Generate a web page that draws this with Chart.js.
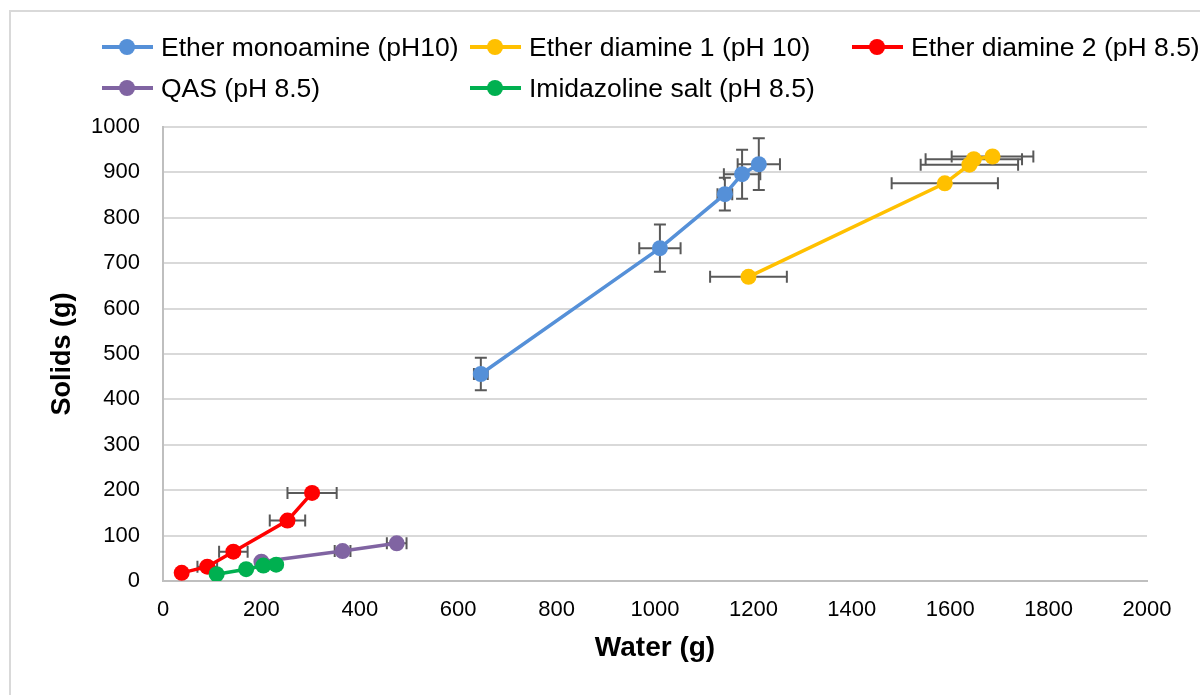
<!DOCTYPE html>
<html>
<head>
<meta charset="utf-8">
<script src="https://cdn.jsdelivr.net/npm/chart.js@4.4.1/dist/chart.umd.min.js"></script>
<style>
  html, body { margin: 0; padding: 0; background: #fff; overflow: hidden; }
  #wrap { position: relative; width: 1200px; height: 695px; overflow: hidden; }
  #frame { position: absolute; left: 9px; top: 10px; width: 1400px; height: 900px;
           border: 2px solid #d9d9d9; box-sizing: border-box; }
  #chart { position: absolute; left: 0; top: 0; }
  #legend { position: absolute; left: 102px; top: 32px; display: grid;
            grid-template-columns: 368px 382px auto; column-gap: 0; row-gap: 11px;
            font-family: "Liberation Sans", Arial, sans-serif; font-size: 26.5px; color: #000; }
  .item { display: flex; align-items: center; height: 30px; white-space: nowrap; }
  .sample { position: relative; width: 51px; height: 30px; margin-right: 8px; flex: none; }
  .sample .ln { position: absolute; left: 0; right: 0; top: 13px; height: 4px; }
  .sample .dot { position: absolute; left: 17px; top: 7px; width: 16px; height: 16px; border-radius: 50%; }
</style>
</head>
<body>
<div id="wrap">
  <div id="frame"></div>
  <canvas id="chart" width="1200" height="695"></canvas>
  <div id="legend"></div>
</div>
<script>
// Series names and colours
const seriesNames = [
  'Ether monoamine (pH10)',
  'Ether diamine 1 (pH 10)',
  'Ether diamine 2 (pH 8.5)',
  'QAS (pH 8.5)',
  'Imidazoline salt (pH 8.5)'
];
const seriesColors = ['#5590d8', '#ffc000', '#ff0000', '#8064a2', '#00b050'];

// Ether monoamine (pH10)
const monoWater = [646, 1010, 1142, 1177, 1211];
const monoSolids = [456, 733, 852, 896, 918];
const monoWaterErr = [14, 42, 15, 37, 43];
const monoSolidsErr = [36, 52, 36, 54, 57];

// Ether diamine 1 (pH 10)
const di1Water = [1190, 1589, 1639, 1648, 1686];
const di1Solids = [670, 876, 917, 929, 935];
const di1WaterErr = [78, 108, 99, 98, 83];
const di1SolidsErr = [0, 0, 0, 0, 0];

// Ether diamine 2 (pH 8.5)
const di2Water = [38, 90, 143, 253, 303];
const di2Solids = [18, 31.5, 64.5, 133, 194];
const di2WaterErr = [0, 20, 29, 36, 50];
const di2SolidsErr = [0, 0, 0, 0, 0];

// QAS (pH 8.5)
const qasWater = [200, 365, 475];
const qasSolids = [42.5, 66, 83];
const qasWaterErr = [0, 16, 20];
const qasSolidsErr = [0, 0, 0];

// Imidazoline salt (pH 8.5)
const imiWater = [109, 169, 204, 230];
const imiSolids = [15, 26, 34, 36];
const imiWaterErr = [0, 0, 0, 0];
const imiSolidsErr = [0, 0, 0, 0];

// Axis ticks
const xTicks = [0, 200, 400, 600, 800, 1000, 1200, 1400, 1600, 1800, 2000];
const yTicks = [0, 100, 200, 300, 400, 500, 600, 700, 800, 900, 1000];

const seriesWater = [monoWater, di1Water, di2Water, qasWater, imiWater];
const seriesSolids = [monoSolids, di1Solids, di2Solids, qasSolids, imiSolids];
const seriesWaterErr = [monoWaterErr, di1WaterErr, di2WaterErr, qasWaterErr, imiWaterErr];
const seriesSolidsErr = [monoSolidsErr, di1SolidsErr, di2SolidsErr, qasSolidsErr, imiSolidsErr];

const datasets = seriesNames.map((name, i) => ({
  label: name,
  data: seriesWater[i].map((w, j) => ({ x: w, y: seriesSolids[i][j] })),
  errX: seriesWaterErr[i],
  errY: seriesSolidsErr[i],
  showLine: true,
  borderColor: seriesColors[i],
  backgroundColor: seriesColors[i],
  borderWidth: 3.5,
  pointRadius: 8,
  pointHoverRadius: 8,
  pointBorderWidth: 0,
  tension: 0,
  order: seriesNames.length - i
}));

// Horizontal and vertical error bars with end caps
const errorBars = {
  id: 'errorBars',
  beforeDatasetsDraw(chart) {
    const { ctx, scales: { x, y } } = chart;
    const cap = 6;
    ctx.save();
    ctx.strokeStyle = '#595959';
    ctx.lineWidth = 2;
    chart.data.datasets.forEach(ds => {
      ds.data.forEach((p, j) => {
        const px = x.getPixelForValue(p.x);
        const py = y.getPixelForValue(p.y);
        const ex = ds.errX[j] || 0;
        const ey = ds.errY[j] || 0;
        ctx.beginPath();
        if (ex > 0) {
          const x1 = x.getPixelForValue(p.x - ex);
          const x2 = x.getPixelForValue(p.x + ex);
          ctx.moveTo(x1, py); ctx.lineTo(x2, py);
          ctx.moveTo(x1, py - cap); ctx.lineTo(x1, py + cap);
          ctx.moveTo(x2, py - cap); ctx.lineTo(x2, py + cap);
        }
        if (ey > 0) {
          const y1 = y.getPixelForValue(p.y - ey);
          const y2 = y.getPixelForValue(p.y + ey);
          ctx.moveTo(px, y1); ctx.lineTo(px, y2);
          ctx.moveTo(px - cap, y1); ctx.lineTo(px + cap, y1);
          ctx.moveTo(px - cap, y2); ctx.lineTo(px + cap, y2);
        }
        ctx.stroke();
      });
    });
    ctx.restore();
  }
};

const tickFont = { family: '"Liberation Sans", Arial, sans-serif', size: 22 };
const titleFont = { family: '"Liberation Sans", Arial, sans-serif', size: 28, weight: 'bold' };
const plainNumber = v => String(v);

new Chart(document.getElementById('chart'), {
  type: 'scatter',
  data: { datasets },
  plugins: [errorBars],
  options: {
    responsive: false,
    animation: false,
    events: [],
    layout: { padding: { top: 127, right: 53, bottom: 0, left: 0 } },
    plugins: { legend: { display: false }, tooltip: { enabled: false } },
    scales: {
      x: {
        type: 'linear',
        min: xTicks[0],
        max: xTicks[xTicks.length - 1],
        afterBuildTicks: s => { s.ticks = xTicks.map(v => ({ value: v })); },
        afterFit: s => { s.height = 114; },
        ticks: { font: tickFont, color: '#000', padding: 16, maxRotation: 0, callback: plainNumber },
        grid: { display: false, drawTicks: false },
        border: { color: '#bfbfbf', width: 2 },
        title: { display: true, text: 'Water (g)', font: titleFont, color: '#000',
                 padding: { top: 0, bottom: 30 } }
      },
      y: {
        type: 'linear',
        min: yTicks[0],
        max: yTicks[yTicks.length - 1],
        afterBuildTicks: s => { s.ticks = yTicks.map(v => ({ value: v })); },
        afterFit: s => { s.width = 163; },
        ticks: { font: tickFont, color: '#000', padding: 23, callback: plainNumber },
        grid: { color: '#d9d9d9', lineWidth: 2, drawTicks: false },
        border: { color: '#bfbfbf', width: 2 },
        title: { display: true, text: 'Solids (g)', font: { ...titleFont, size: 27 }, color: '#000',
                 padding: { top: 46, bottom: 0 } }
      }
    }
  }
});

// Legend laid out in a three-column grid
const legend = document.getElementById('legend');
seriesNames.forEach((name, i) => {
  const item = document.createElement('div');
  item.className = 'item';
  const sample = document.createElement('span');
  sample.className = 'sample';
  const ln = document.createElement('span');
  ln.className = 'ln';
  ln.style.background = seriesColors[i];
  const dot = document.createElement('span');
  dot.className = 'dot';
  dot.style.background = seriesColors[i];
  sample.appendChild(ln);
  sample.appendChild(dot);
  const label = document.createElement('span');
  label.textContent = name;
  item.appendChild(sample);
  item.appendChild(label);
  legend.appendChild(item);
});
</script>
</body>
</html>
